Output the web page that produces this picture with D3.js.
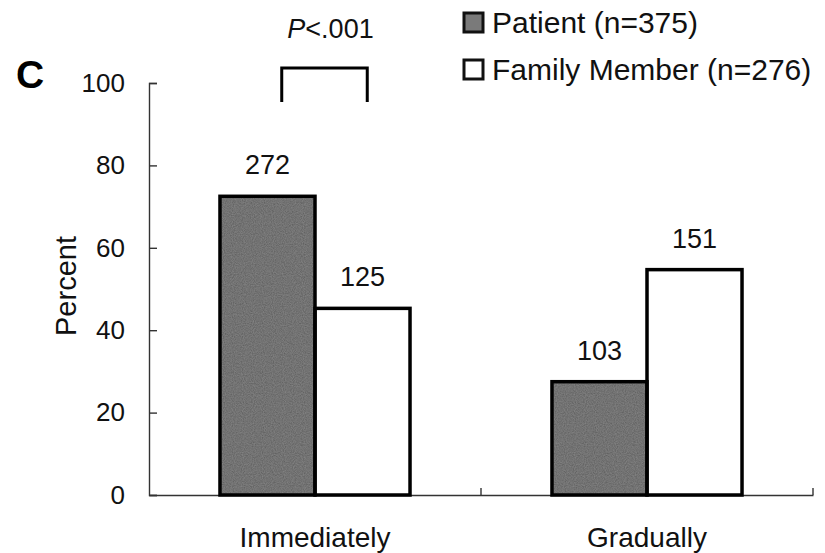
<!DOCTYPE html>
<html>
<head>
<meta charset="utf-8">
<script src="https://cdn.jsdelivr.net/npm/d3@7"></script>
<style>
  body { margin: 0; background: #fff; }
  svg { display: block; font-family: "Liberation Sans", Arial, sans-serif; }
</style>
</head>
<body>
<svg id="chart" width="825" height="553"></svg>
<script>
// data
const categories = ["Immediately", "Gradually"];
const seriesNames = ["Patient", "Family Member"];
const seriesLabels = ["Patient (n=375)", "Family Member (n=276)"];
const patientPct = [72.5, 27.5];
const familyPct = [45.3, 54.7];
const patientCounts = [272, 103];
const familyCounts = [125, 151];
const yTicks = [0, 20, 40, 60, 80, 100];

const fills = { "Patient": "#5a5a5a", "Family Member": "#ffffff" };

const svg = d3.select("#chart");
const margin = { top: 83, left: 149, right: 12, bottom: 58 };
const width = 825, height = 553;

const x = d3.scaleBand()
	.domain(categories)
	.range([margin.left, width - margin.right])
	.paddingInner(0)
	.paddingOuter(0);

const xSub = d3.scaleBand()
	.domain(seriesNames)
	.range([0, x.bandwidth()])
	.paddingInner(0)
	.paddingOuter(0.747);

const y = d3.scaleLinear()
	.domain([0, 100])
	.range([height - margin.bottom, margin.top]);

// grain for the dark bars
const defs = svg.append("defs");
const filt = defs.append("filter").attr("id", "grain").attr("x", 0).attr("y", 0).attr("width", 1).attr("height", 1);
filt.append("feTurbulence").attr("type", "fractalNoise").attr("baseFrequency", 0.9).attr("numOctaves", 2).attr("seed", 3).attr("result", "noise");
filt.append("feColorMatrix").attr("in", "noise").attr("type", "matrix")
	.attr("values", "0 0 0 0 0.45  0 0 0 0 0.45  0 0 0 0 0.45  0 0 0 0.4 0").attr("result", "n2");
filt.append("feComposite").attr("in", "n2").attr("in2", "SourceGraphic").attr("operator", "in").attr("result", "n3");
filt.append("feMerge").selectAll("feMergeNode").data(["SourceGraphic", "n3"]).join("feMergeNode").attr("in", d => d);

const rows = categories.map((c, i) => ({
	cat: c,
	values: [
		{ series: "Patient", pct: patientPct[i], n: patientCounts[i] },
		{ series: "Family Member", pct: familyPct[i], n: familyCounts[i] },
	],
}));

// y axis
const yAxis = svg.append("g")
	.attr("transform", "translate(" + margin.left + ",0)")
	.call(d3.axisRight(y).tickValues(yTicks).tickSize(8).tickFormat(d3.format("d")));
yAxis.select(".domain").attr("stroke", "#333").attr("stroke-width", 1.4);
yAxis.selectAll(".tick line").attr("stroke", "#333").attr("stroke-width", 1.4);
yAxis.selectAll(".tick text")
	.attr("x", -24)
	.attr("text-anchor", "end")
	.attr("font-size", 26)
	.attr("fill", "#111");

// x axis
const xAxis = svg.append("g")
	.attr("transform", "translate(0," + y(0) + ")")
	.call(d3.axisTop(x).tickValues([]).tickSizeOuter(0));
xAxis.select(".domain").attr("stroke", "#333").attr("stroke-width", 1.4);
// boundary ticks between and after the categories
xAxis.selectAll(".bound")
	.data(categories.slice(1).concat(["end"]))
	.join("line")
	.attr("class", "bound")
	.attr("x1", d => d === "end" ? x.range()[1] : x(d))
	.attr("x2", d => d === "end" ? x.range()[1] : x(d))
	.attr("y1", 0)
	.attr("y2", -7)
	.attr("stroke", "#333")
	.attr("stroke-width", 1.4);

svg.selectAll(".cat-label")
	.data(categories)
	.join("text")
	.attr("class", "cat-label")
	.attr("x", d => x(d) + x.bandwidth() / 2)
	.attr("y", y(0) + 52)
	.attr("text-anchor", "middle")
	.attr("font-size", 28)
	.attr("fill", "#111")
	.text(d => d);

// bars
const groups = svg.selectAll(".grp")
	.data(rows)
	.join("g")
	.attr("class", "grp")
	.attr("transform", d => "translate(" + x(d.cat) + ",0)");

groups.selectAll(".bar")
	.data(d => d.values)
	.join("rect")
	.attr("class", "bar")
	.attr("x", d => xSub(d.series))
	.attr("y", d => y(d.pct))
	.attr("width", xSub.bandwidth())
	.attr("height", d => y(0) - y(d.pct))
	.attr("fill", d => fills[d.series])
	.attr("filter", d => d.series === "Patient" ? "url(#grain)" : null);

groups.selectAll(".outline")
	.data(d => d.values)
	.join("rect")
	.attr("class", "outline")
	.attr("x", d => xSub(d.series))
	.attr("y", d => y(d.pct))
	.attr("width", xSub.bandwidth())
	.attr("height", d => y(0) - y(d.pct))
	.attr("fill", "none")
	.attr("stroke", "#000")
	.attr("stroke-width", 3.5);

groups.selectAll(".val")
	.data(d => d.values)
	.join("text")
	.attr("class", "val")
	.attr("x", d => xSub(d.series) + xSub.bandwidth() / 2)
	.attr("y", d => y(d.pct) - 22)
	.attr("text-anchor", "middle")
	.attr("font-size", 27)
	.attr("fill", "#111")
	.text(d => d.n);

// y label
svg.append("text")
	.attr("transform", "translate(76," + (y(50) - 3) + ") rotate(-90)")
	.attr("text-anchor", "middle")
	.attr("font-size", 29)
	.attr("fill", "#111")
	.text("Percent");

// panel letter
svg.append("text")
	.attr("x", 16)
	.attr("y", 88)
	.attr("font-size", 39)
	.attr("font-weight", "bold")
	.attr("fill", "#000")
	.text("C");

// significance bracket
const bx0 = x(categories[0]) + xSub("Patient") + xSub.bandwidth() * 0.65;
const bx1 = x(categories[0]) + xSub("Family Member") + xSub.bandwidth() * 0.55;
svg.append("path")
	.attr("d", "M" + bx0 + "," + 102 + "V" + 68 + "H" + bx1 + "V" + 102)
	.attr("fill", "none")
	.attr("stroke", "#000")
	.attr("stroke-width", 3);

const pt = svg.append("text")
	.attr("x", (bx0 + bx1) / 2 + 6)
	.attr("y", 38)
	.attr("text-anchor", "middle")
	.attr("font-size", 27)
	.attr("fill", "#111");
pt.append("tspan").attr("font-style", "italic").text("P");
pt.append("tspan").text("<.001");

// legend
const legend = svg.append("g").attr("transform", "translate(464,0)");
const li = legend.selectAll("g")
	.data(seriesNames)
	.join("g")
	.attr("transform", (d, i) => "translate(0," + (13 + i * 47) + ")");
li.append("rect")
	.attr("x", 0)
	.attr("y", 0)
	.attr("width", 19)
	.attr("height", 19)
	.attr("fill", d => d === "Patient" ? "#7a7a7a" : "#fff")
	.attr("stroke", "#111")
	.attr("stroke-width", 3);
li.append("text")
	.attr("x", 28)
	.attr("y", 20)
	.attr("font-size", 30)
	.attr("fill", "#111")
	.text((d, i) => seriesLabels[i]);
</script>
</body>
</html>
